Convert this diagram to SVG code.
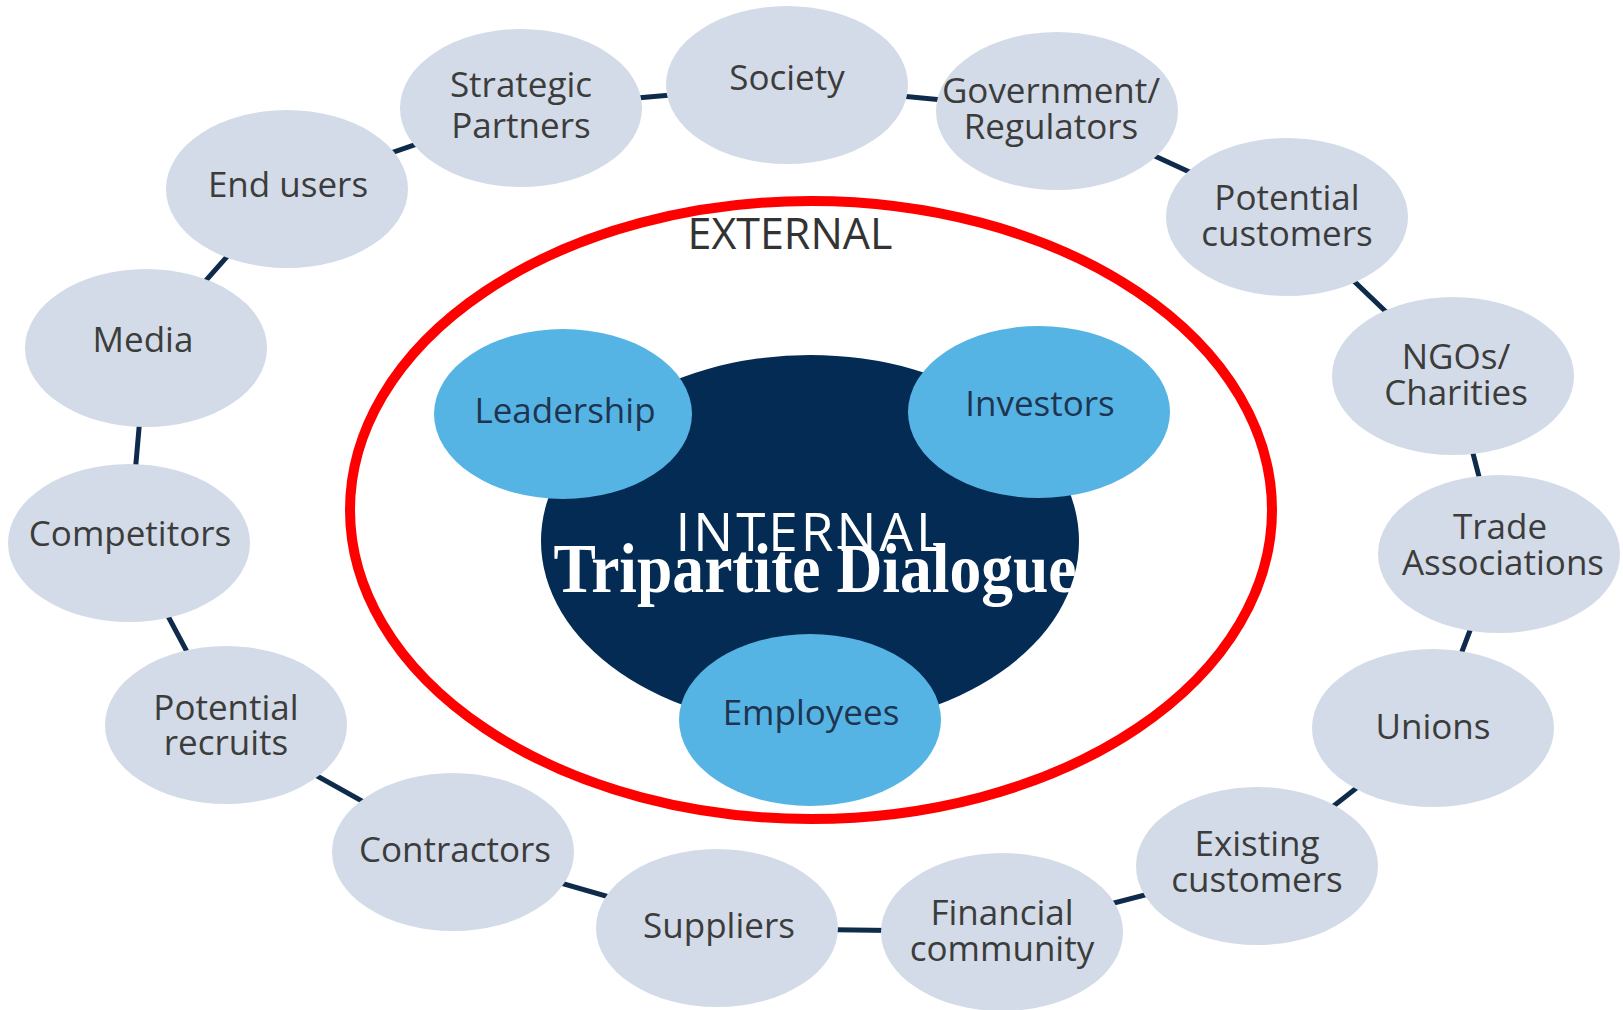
<svg xmlns="http://www.w3.org/2000/svg" width="1623" height="1010" viewBox="0 0 1623 1010">
<style>
.ext{fill:#d2dbe7}
.int{fill:#56b4e4}
.lbl{font-family:"Open Sans","Noto Sans",sans-serif;font-size:35px;fill:#3c3c3c;text-anchor:middle}
.ilbl{font-family:"Open Sans","Noto Sans",sans-serif;font-size:35px;fill:#1e3450;text-anchor:middle}
.conn{stroke:#0f2b4c;stroke-width:5;fill:none}
</style>
<rect width="1623" height="1010" fill="#ffffff"/>
<g id="connectors">
<polyline class="conn" points="521,108 787,85 1057,111 1287,217 1453,376 1499,554 1433,728 1257,866 1002,932 717,928 453,852 226,725 129,543 146,348 287,189 521,108"/>
</g>
<g id="society"><ellipse class="ext" cx="787" cy="85" rx="121" ry="79"/><text class="lbl" x="787" y="90">Society</text></g>
<g id="government"><ellipse class="ext" cx="1057" cy="111" rx="121" ry="79"/><text class="lbl" x="1051" y="103">Government/</text><text class="lbl" x="1051" y="139">Regulators</text></g>
<g id="potential-customers"><ellipse class="ext" cx="1287" cy="217" rx="121" ry="79"/><text class="lbl" x="1287" y="210">Potential</text><text class="lbl" x="1287" y="246">customers</text></g>
<g id="ngos"><ellipse class="ext" cx="1453" cy="376" rx="121" ry="79"/><text class="lbl" x="1456" y="369">NGOs/</text><text class="lbl" x="1456" y="405">Charities</text></g>
<g id="trade"><ellipse class="ext" cx="1499" cy="554" rx="121" ry="79"/><text class="lbl" x="1500" y="539">Trade</text><text class="lbl" x="1503" y="575">Associations</text></g>
<g id="unions"><ellipse class="ext" cx="1433" cy="728" rx="121" ry="79"/><text class="lbl" x="1433" y="739">Unions</text></g>
<g id="existing-customers"><ellipse class="ext" cx="1257" cy="866" rx="121" ry="79"/><text class="lbl" x="1257" y="856">Existing</text><text class="lbl" x="1257" y="892">customers</text></g>
<g id="financial"><ellipse class="ext" cx="1002" cy="932" rx="121" ry="79"/><text class="lbl" x="1002" y="925">Financial</text><text class="lbl" x="1002" y="961">community</text></g>
<g id="suppliers"><ellipse class="ext" cx="717" cy="928" rx="121" ry="79"/><text class="lbl" x="719" y="938">Suppliers</text></g>
<g id="contractors"><ellipse class="ext" cx="453" cy="852" rx="121" ry="79"/><text class="lbl" x="455" y="862">Contractors</text></g>
<g id="potential-recruits"><ellipse class="ext" cx="226" cy="725" rx="121" ry="79"/><text class="lbl" x="226" y="720">Potential</text><text class="lbl" x="226" y="755">recruits</text></g>
<g id="competitors"><ellipse class="ext" cx="129" cy="543" rx="121" ry="79"/><text class="lbl" x="130" y="546">Competitors</text></g>
<g id="media"><ellipse class="ext" cx="146" cy="348" rx="121" ry="79"/><text class="lbl" x="143" y="352">Media</text></g>
<g id="end-users"><ellipse class="ext" cx="287" cy="189" rx="121" ry="79"/><text class="lbl" x="288" y="197">End users</text></g>
<g id="strategic"><ellipse class="ext" cx="521" cy="108" rx="121" ry="79"/><text class="lbl" x="521" y="97">Strategic</text><text class="lbl" x="521" y="138">Partners</text></g>
<g id="external"><ellipse cx="811" cy="510" rx="461" ry="309" fill="none" stroke="#ff0000" stroke-width="10"/><text x="790" y="249" font-family="Open Sans, Noto Sans, sans-serif" font-size="43" fill="#333333" text-anchor="middle">EXTERNAL</text></g>
<g id="internal"><ellipse cx="810" cy="541" rx="269" ry="186" fill="#032b53"/></g>
<g id="leadership"><ellipse class="int" cx="563" cy="414" rx="129" ry="85"/><text class="ilbl" x="565" y="423">Leadership</text></g>
<g id="investors"><ellipse class="int" cx="1039" cy="412" rx="131" ry="86"/><text class="ilbl" x="1040" y="416">Investors</text></g>
<g id="employees"><ellipse class="int" cx="810" cy="720" rx="131" ry="86"/><text class="ilbl" x="811" y="725">Employees</text></g>
<g id="titles">
<text x="811" y="551" font-family="Open Sans, Noto Sans, sans-serif" font-size="53" fill="#ffffff" text-anchor="middle" letter-spacing="3">INTERNAL</text>
<text x="815" y="592" font-family="Liberation Serif, serif" font-weight="bold" font-size="70" fill="#ffffff" text-anchor="middle" textLength="523" lengthAdjust="spacingAndGlyphs">Tripartite Dialogue</text>
</g>
</svg>
